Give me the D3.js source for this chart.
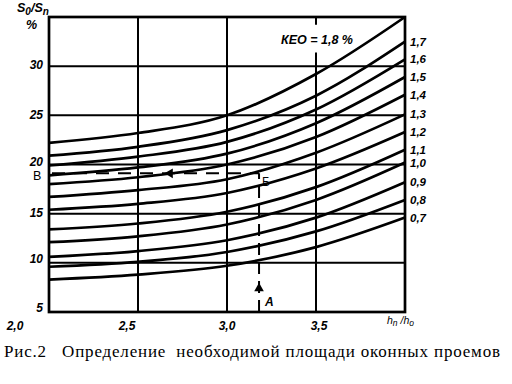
<!DOCTYPE html>
<html><head><meta charset="utf-8">
<script src="https://cdn.jsdelivr.net/npm/d3@7"></script>
<style>body{margin:0;background:#fff;} svg{display:block;}</style>
</head><body>
<svg id="c" width="512" height="384"></svg>
<script>
// ---- data ----
const xGrid = [2.5, 3.0, 3.5];
const yGrid = [10, 15, 20, 25, 30];
const xTickValues = [2.0, 2.5, 3.0, 3.5];
const xTickLabels = ["2,0", "2,5", "3,0", "3,5"];
const yTickValues = [5, 10, 15, 20, 25, 30];
const yTickLabels = ["5", "10", "15", "20", "25", "30"];
const hRatio = [2.0, 2.5, 3.0, 3.5, 4.0];           // h_n/h_o
const curveNames = ["0,7", "0,8", "0,9", "1,0", "1,1", "1,2", "1,3", "1,4", "1,5", "1,6", "1,7", ""];
const c07 = [8.3, 8.8, 9.7, 11.6, 14.6];
const c08 = [9.6, 10.1, 11.1, 13.2, 16.4];
const c09 = [10.6, 11.2, 12.3, 14.6, 18.2];
const c10 = [12.1, 12.7, 13.9, 16.4, 20.2];
const c11 = [13.4, 14.0, 15.2, 17.7, 21.5];
const c12 = [15.4, 16.0, 17.1, 19.6, 23.3];
const c13 = [16.7, 17.4, 18.5, 21.2, 25.1];
const c14 = [18.0, 18.7, 20.0, 22.8, 27.1];
const c15 = [18.9, 19.7, 21.1, 24.2, 28.9];
const c16 = [19.9, 20.8, 22.3, 25.6, 30.7];
const c17 = [20.9, 21.8, 23.5, 27.0, 32.5];
const c18 = [22.2, 23.2, 25.0, 29.2, 35.0];
const series = [c07, c08, c09, c10, c11, c12, c13, c14, c15, c16, c17, c18];
const readX = 3.18;   // point A
const readY = 19.1;   // point B
const keoText = "КЕО = 1,8 %";
const caption = "Рис.2   Определение  необходимой площади оконных проемов";

// ---- chart ----
const svg = d3.select("#c");
const x = d3.scaleLinear().domain([2.0, 4.0]).range([49, 405]);
const y = d3.scaleLinear().domain([5, 35]).range([312, 17]);
const axisFont = "Liberation Sans, Arial, sans-serif";

// horizontal grid
svg.append("g").selectAll("line").data(yGrid).join("line")
  .attr("x1", x(2.0)).attr("x2", x(4.0))
  .attr("y1", d => y(d)).attr("y2", d => y(d))
  .attr("stroke", "#000").attr("stroke-width", 2);

// vertical grid (3.5 interrupted by label)
const vSegs = [[2.5, 5, 35], [3.0, 5, 35], [3.5, 5, 31.4], [3.5, 34.2, 35]];
svg.append("g").selectAll("line").data(vSegs).join("line")
  .attr("x1", d => x(d[0])).attr("x2", d => x(d[0]))
  .attr("y1", d => y(d[1])).attr("y2", d => y(d[2]))
  .attr("stroke", "#000").attr("stroke-width", 2);

// curves
const line = d3.line().x((d, i) => x(hRatio[i])).y(d => y(d)).curve(d3.curveMonotoneX);
svg.append("g").selectAll("path").data(series).join("path")
  .attr("d", line).attr("fill", "none").attr("stroke", "#000").attr("stroke-width", 2.7);

// frame
svg.append("rect").attr("x", x(2.0)).attr("y", y(35))
  .attr("width", x(4.0) - x(2.0)).attr("height", y(5) - y(35))
  .attr("fill", "none").attr("stroke", "#000").attr("stroke-width", 2.7);

// curve labels
svg.append("g").selectAll("text").data(series).join("text")
  .attr("x", x(4.0) + 5).attr("y", d => y(d[d.length - 1]) + 1)
  .attr("dominant-baseline", "middle")
  .attr("font-family", axisFont).attr("font-size", 11.5)
  .attr("font-weight", "bold").attr("font-style", "italic")
  .text((d, i) => curveNames[i]);

// y tick labels
svg.append("g").selectAll("text").data(yTickValues).join("text")
  .attr("x", 43).attr("y", d => y(d) - (d <= 10 ? 3 : d === 20 ? 2 : 0))
  .attr("text-anchor", "end").attr("dominant-baseline", "middle")
  .attr("font-family", axisFont).attr("font-size", 12)
  .attr("font-weight", "bold").attr("font-style", "italic")
  .text((d, i) => yTickLabels[i]);

// x tick labels
svg.append("g").selectAll("text").data(xTickValues).join("text")
  .attr("x", (d, i) => x(d) + (i === 0 ? -34 : i === 1 ? -11 : i === 3 ? 3 : 0))
  .attr("y", 330)
  .attr("text-anchor", "middle")
  .attr("font-family", axisFont).attr("font-size", 12)
  .attr("font-weight", "bold").attr("font-style", "italic")
  .text((d, i) => xTickLabels[i]);

// y axis title S0/Sn %
const yt = svg.append("text").attr("x", 17).attr("y", 12)
  .attr("font-family", axisFont).attr("font-size", 12.5)
  .attr("font-weight", "bold").attr("font-style", "italic");
yt.append("tspan").text("S");
yt.append("tspan").attr("dy", 3).attr("font-size", 10).text("0");
yt.append("tspan").attr("dy", -3).text("/S");
yt.append("tspan").attr("dy", 3).attr("font-size", 10).text("n");
svg.append("text").attr("x", 26).attr("y", 29)
  .attr("font-family", axisFont).attr("font-size", 12.5)
  .attr("font-weight", "bold").attr("font-style", "italic").text("%");

// x axis title hn/ho
const xt = svg.append("text").attr("x", 387).attr("y", 324)
  .attr("font-family", axisFont).attr("font-size", 10.5).attr("font-style", "italic");
xt.append("tspan").text("h");
xt.append("tspan").attr("dy", 2).attr("font-size", 8.5).text("n");
xt.append("tspan").attr("dy", -2).text(" /h");
xt.append("tspan").attr("dy", 2).attr("font-size", 8.5).text("o");

// KEO label
svg.append("text").attr("x", x(3.5) + 1).attr("y", 41)
  .attr("text-anchor", "middle").attr("dominant-baseline", "middle")
  .attr("font-family", axisFont).attr("font-size", 12.5)
  .attr("font-weight", "bold").attr("font-style", "italic").text(keoText);

// reading lines: B -> Б and A -> Б
svg.append("line").attr("x1", x(2.0) + 3).attr("x2", x(readX))
  .attr("y1", y(readY)).attr("y2", y(readY))
  .attr("stroke", "#000").attr("stroke-width", 2).attr("stroke-dasharray", "13,9");
svg.append("line").attr("x1", x(readX)).attr("x2", x(readX))
  .attr("y1", y(5)).attr("y2", y(readY))
  .attr("stroke", "#000").attr("stroke-width", 2).attr("stroke-dasharray", "12,7");

// arrowheads
const tri = d3.symbol().type(d3.symbolTriangle).size(40);
svg.append("path").attr("d", tri)
  .attr("transform", `translate(${x(2.68)},${y(readY)}) rotate(-90)`).attr("fill", "#000");
svg.append("path").attr("d", tri)
  .attr("transform", `translate(${x(readX)},${y(7.4)})`).attr("fill", "#000");

// point letters
svg.append("text").attr("x", 33).attr("y", y(readY) + 3).attr("dominant-baseline", "middle")
  .attr("font-family", axisFont).attr("font-size", 12.5).text("В");
svg.append("text").attr("x", x(readX) + 3).attr("y", y(readY) + 13)
  .attr("font-family", axisFont).attr("font-size", 12).text("Б");
svg.append("text").attr("x", x(readX) + 6).attr("y", 306)
  .attr("font-family", axisFont).attr("font-size", 12)
  .attr("font-weight", "bold").attr("font-style", "italic").text("А");

// caption
svg.append("text").attr("x", 4).attr("y", 357)
  .attr("font-family", "Liberation Serif, Times New Roman, serif").attr("font-size", 17)
  .attr("textLength", 496).attr("lengthAdjust", "spacing")
  .attr("xml:space", "preserve").style("white-space", "pre").text(caption);
</script>
</body></html>
